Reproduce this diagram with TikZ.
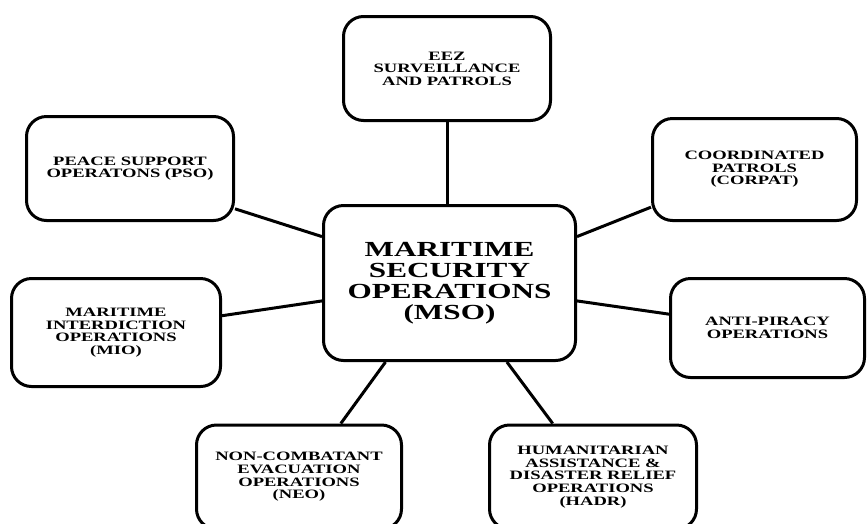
\documentclass[tikz,border=0pt]{standalone}
\usepackage{fontspec}
\setmainfont{Liberation Serif}[FakeStretch=1.45]
\usetikzlibrary{positioning}

\begin{document}
\begin{tikzpicture}[x=1pt,y=-1pt]
  \tikzstyle{opbox}=[draw,line width=3pt,rounded corners=20pt,align=center,
    minimum width=207pt,minimum height=104pt,inner sep=0pt,
    font=\fontsize{12.8}{12.6}\selectfont\bfseries]
  \tikzstyle{hubbox}=[opbox,minimum width=252pt,minimum height=155pt,
    font=\fontsize{21.5}{21}\selectfont\bfseries]
  \tikzstyle{link}=[line width=3pt]
  \useasboundingbox (0,0) rectangle (867,523);
  \node[hubbox] (mso) at (449.5,283) {MARITIME\\SECURITY\\OPERATIONS\\(MSO)};
  \node[opbox] (eez) at (447,68.5) {EEZ\\SURVEILLANCE\\AND PATROLS};
  \node[opbox] (pso) at (130,168.5) {PEACE SUPPORT\\OPERATONS (PSO)};
  \node[opbox,minimum width=209pt,minimum height=108pt] (mio) at (116,332.5)
    {MARITIME\\INTERDICTION\\OPERATIONS\\(MIO)};
  \node[opbox,minimum width=204pt,minimum height=102pt] (corpat) at (754.5,169.5)
    {COORDINATED\\PATROLS\\(CORPAT)};
  \node[opbox,minimum width=194pt,minimum height=99pt] (anti) at (767.5,328)
    {ANTI-PIRACY\\OPERATIONS};
  \node[opbox,minimum width=205pt] (neo) at (299,477)
    {NON-COMBATANT\\EVACUATION\\OPERATIONS\\(NEO)};
  \node[opbox] (hadr) at (593,477)
    {HUMANITARIAN\\ASSISTANCE \&\\DISASTER RELIEF\\OPERATIONS\\(HADR)};
  \draw[link] (eez.south) -- (eez.south |- mso.north);
  \draw[link] (pso.-21.2) -- (mso.160.7);
  \draw[link] (mio.9.5) -- (mso.188.2);
  \draw[link] (corpat.200.4) -- (mso.20.1);
  \draw[link] (anti.172.4) -- (mso.-8.2);
  \draw[link] (neo.52.3) -- (mso.-129.1);
  \draw[link] (hadr.127.7) -- (mso.-54.2);
\end{tikzpicture}
\end{document}
